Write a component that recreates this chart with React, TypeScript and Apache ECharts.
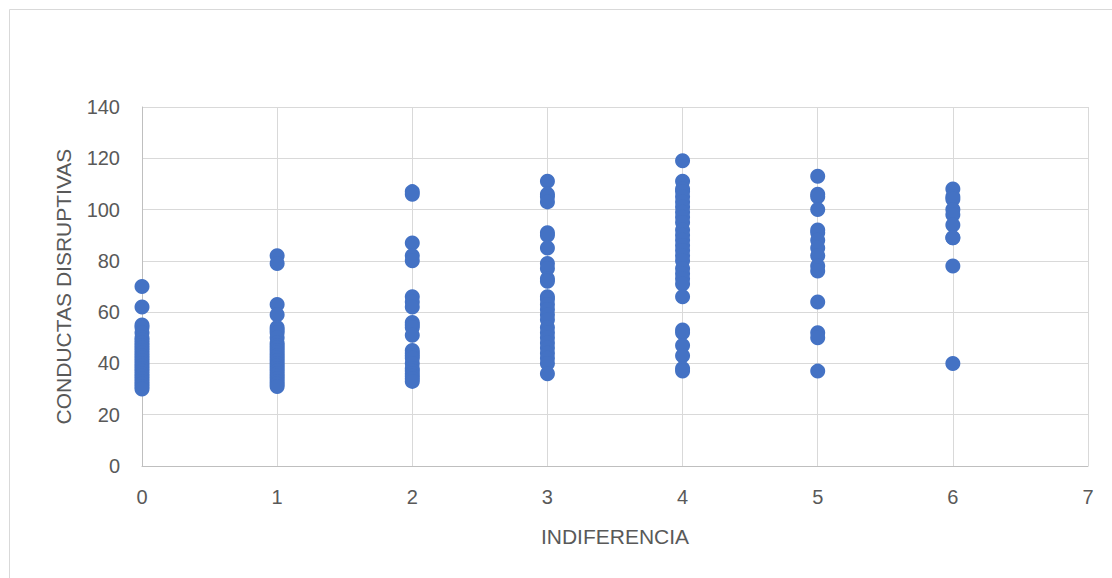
import React, { useEffect, useRef } from "react";
import * as echarts from "echarts";

const xTitle = "INDIFERENCIA";
const yTitle = "CONDUCTAS DISRUPTIVAS";

const col0 = [70, 62, 55, 54, 52, 50, 49, 48, 47, 46, 45, 44, 43, 42, 41, 40, 39, 38, 37, 36, 35, 34, 33, 32, 31, 30];
const col1 = [82, 79, 63, 59, 54, 53, 52, 50, 48, 47, 46, 45, 44, 43, 42, 41, 40, 39, 38, 37, 36, 35, 34, 33, 32, 31];
const col2 = [107, 106, 87, 82, 80, 66, 64, 62, 56, 55, 54, 51, 45, 44, 43, 42, 40, 38, 37, 36, 35, 34, 33];
const col3 = [111, 106, 105, 103, 91, 90, 85, 79, 77, 73, 72, 66, 65, 63, 61, 59, 57, 54, 52, 50, 48, 46, 44, 42, 40, 36];
const col4 = [119, 111, 108, 107, 105, 103, 101, 99, 97, 95, 92, 90, 88, 86, 84, 82, 80, 77, 75, 73, 71, 66, 53, 52, 47, 43, 38, 37];
const col5 = [113, 106, 105, 100, 92, 91, 88, 85, 82, 78, 76, 64, 52, 50, 37];
const col6 = [108, 105, 104, 100, 98, 94, 89, 89, 78, 40];

const columns = [col0, col1, col2, col3, col4, col5, col6];

export default function App() {
  const ref = useRef<HTMLDivElement>(null);
  useEffect(() => {
    if (!ref.current) return;
    const chart = echarts.init(ref.current, undefined, { renderer: "svg" });
    const data: number[][] = [];
    columns.forEach((vals, x) => vals.forEach((v) => data.push([x, v])));
    const font = "Liberation Sans";
    chart.setOption({
      animation: false,
      graphic: [
        {
          type: "rect",
          shape: { x: 9.5, y: 9.5, width: 1200, height: 700 },
          style: { fill: "none", stroke: "#D9D9D9", lineWidth: 1 },
          silent: true,
        },
      ],
      grid: { left: 142, right: 24, top: 107, bottom: 112 },
      xAxis: {
        type: "value",
        min: 0,
        max: 7,
        interval: 1,
        name: xTitle,
        nameLocation: "middle",
        nameGap: 60,
        nameTextStyle: { color: "#595959", fontSize: 21, fontFamily: font },
        axisLine: { show: true, lineStyle: { color: "#BFBFBF", width: 1 } },
        axisTick: { show: false },
        axisLabel: { color: "#595959", fontSize: 20, fontFamily: font, margin: 21 },
        splitLine: { show: true, lineStyle: { color: "#D9D9D9", width: 1 } },
      },
      yAxis: {
        type: "value",
        min: 0,
        max: 140,
        interval: 20,
        name: yTitle,
        nameLocation: "middle",
        nameGap: 68,
        nameTextStyle: { color: "#595959", fontSize: 21, fontFamily: font },
        axisLine: { show: true, lineStyle: { color: "#BFBFBF", width: 1 } },
        axisTick: { show: false },
        axisLabel: { color: "#595959", fontSize: 20, fontFamily: font, margin: 22 },
        splitLine: { show: true, lineStyle: { color: "#D9D9D9", width: 1 } },
      },
      series: [
        {
          type: "scatter",
          data,
          symbol: "circle",
          symbolSize: 15,
          itemStyle: { color: "#4472C4", opacity: 1 },
        },
      ],
    });
    return () => chart.dispose();
  }, []);
  return (
    <div
      ref={ref}
      style={{ position: "absolute", left: 0, top: 0, width: 1112, height: 578, background: "#fff" }}
    />
  );
}
